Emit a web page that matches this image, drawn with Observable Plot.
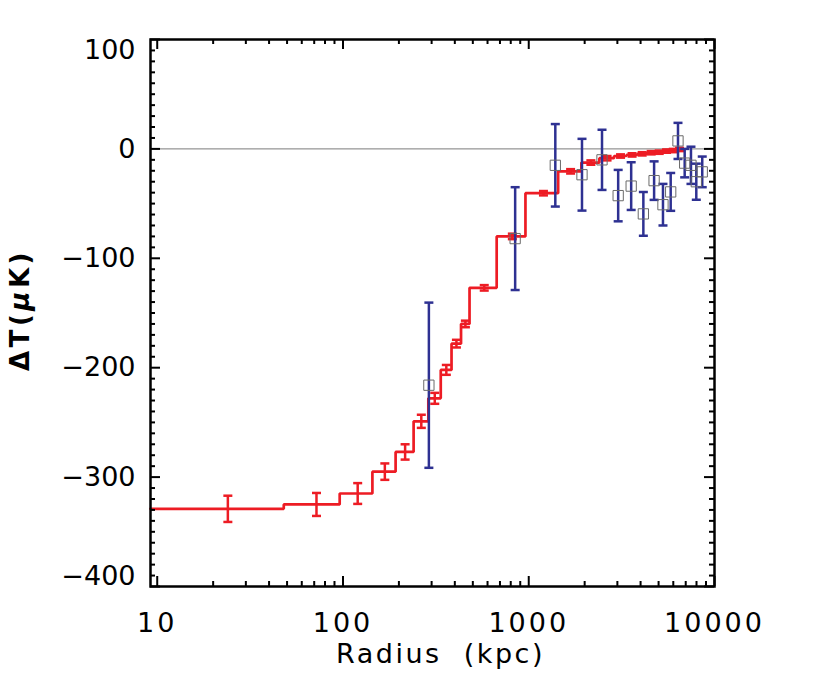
<!DOCTYPE html>
<html>
<head>
<meta charset="utf-8">
<script src="https://cdn.jsdelivr.net/npm/d3@7"></script>
<script src="https://cdn.jsdelivr.net/npm/@observablehq/plot@0.6"></script>
<style>
  body { margin: 0; background: #fff; }
  #chart svg { display: block; }
  g[font-family="DejaVu Sans, sans-serif"] { letter-spacing: 3px; }
  g[font-family="DejaVu Sans, Arial"] { letter-spacing: 2.5px; }
  g[font-family="DejaVu Sans, Helvetica"] { letter-spacing: 3.5px; }
</style>
</head>
<body>
<div id="chart"></div>
<script>
// ---- Data ----
// Red: binned profile (step histogram) with error bars
const redRadius = [24, 72, 120, 168, 216, 264, 312, 360, 408, 456, 576, 816, 1200, 1680, 2160, 2640, 3120, 3600, 4080, 4560, 5040, 5520, 6000, 6480];
const redBinLo  = [0, 48, 96, 144, 192, 240, 288, 336, 384, 432, 480, 672, 960, 1440, 1920, 2400, 2880, 3360, 3840, 4320, 4800, 5280, 5760, 6240];
const redBinHi  = [48, 96, 144, 192, 240, 288, 336, 384, 432, 480, 672, 960, 1440, 1920, 2400, 2880, 3360, 3840, 4320, 4800, 5280, 5760, 6240, 6720];
const redDT     = [-329, -325, -315, -295, -277, -249, -228, -202, -178, -160, -127, -80, -40.5, -20.5, -12.5, -8.5, -6.5, -5.5, -4.5, -3.5, -3, -2, -1.5, -0.5];
const redErr    = [12, 10.5, 9.5, 7.5, 7, 6, 5, 4.5, 3.5, 3, 2.5, 2.5, 2, 2, 2, 2, 1.5, 1.5, 1.5, 1.5, 1.5, 1.5, 1.5, 1.5];

// Blue: individual measurements (squares) with error bars
const blueRadius = [290, 845, 1390, 1935, 2480, 3030, 3560, 4140, 4730, 5280, 5810, 6360, 6910, 7470, 7980, 8590];
const blueDT     = [-216, -82, -15, -23.6, -10, -42.7, -34, -59.4, -29, -51, -39.3, 7.3, -13, -15, -30, -21];
const blueErr    = [75.5, 47, 37.7, 32.8, 27.5, 23.5, 21.8, 20, 17.6, 19, 17.3, 16.5, 13, 17, 16.5, 14];

// Axis ticks and labels
const xMajorTicks = [10, 100, 1000, 10000];
const xMinorTicks = [20, 30, 40, 50, 60, 70, 80, 90, 200, 300, 400, 500, 600, 700, 800, 900, 2000, 3000, 4000, 5000, 6000, 7000, 8000, 9000];
const xTickLabels = ["10", "100", "1000", "10000"];
const yMajorTicks = [-400, -300, -200, -100, 0, 100];
const yMinorTicks = d3.range(-390, 100, 10).filter(v => v % 100 !== 0);
const yTickLabels = ["−400", "−300", "−200", "−100", "0", "100"];
const xTitle = "Radius  (kpc)";
const yTitle = "ΔT(μK)";

// ---- Layout ----
const W = 830, H = 699;
const mL = 150, mR = 116, mT = 39, mB = 113;
const frameW = W - mL - mR;
const frameH = H - mT - mB;
const xDomain = [9.2, 10000];
const yDomain = [-400, 100];

const redColor = "#ed1c24";
const blueColor = "#2e3192";

const red = redRadius.map((r, i) => ({
  r, lo: Math.max(redBinLo[i], xDomain[0]), hi: redBinHi[i], dt: redDT[i], err: redErr[i]
}));
const stepPts = red.flatMap(d => [{x: d.lo, y: d.dt}, {x: d.hi, y: d.dt}]);
const redCaps = red.flatMap(d => [{x: d.r, y: d.dt - d.err}, {x: d.r, y: d.dt + d.err}]);

const blue = blueRadius.map((r, i) => ({r, dt: blueDT[i], err: blueErr[i]}));
const blueCaps = blue.flatMap(d => [{x: d.r, y: d.dt - d.err}, {x: d.r, y: d.dt + d.err}]);

const capSymbol = {
  draw(ctx, size) {
    const r = Math.sqrt(size / Math.PI);
    ctx.moveTo(-r, 0);
    ctx.lineTo(r, 0);
  }
};

const yLab = yMajorTicks.map((v, i) => ({v, t: yTickLabels[i]}));
const xLab = xMajorTicks.map((v, i) => ({v, t: xTickLabels[i]}));

const tickStyle = {stroke: "black", strokeWidth: 2};

const plot = Plot.plot({
  width: W,
  height: H,
  marginLeft: mL, marginRight: mR, marginTop: mT, marginBottom: mB,
  x: {type: "log", domain: xDomain, axis: null},
  y: {domain: yDomain, axis: null},
  style: {fontFamily: "DejaVu Sans", fontSize: "27px", background: "white", color: "black"},
  marks: [
    Plot.ruleY([0], {stroke: "#7a7a7a", strokeWidth: 1}),
    // red step profile
    Plot.line(stepPts, {x: "x", y: "y", stroke: redColor, strokeWidth: 2.7, strokeLinejoin: "miter"}),
    Plot.ruleX(red, {x: "r", y1: d => d.dt - d.err, y2: d => d.dt + d.err, stroke: redColor, strokeWidth: 2.5}),
    Plot.dot(redCaps, {x: "x", y: "y", symbol: capSymbol, r: 4.5, fill: "none", stroke: redColor, strokeWidth: 2.5}),
    // blue measurements
    Plot.ruleX(blue, {x: "r", y1: d => d.dt - d.err, y2: d => d.dt + d.err, stroke: blueColor, strokeWidth: 2.5}),
    Plot.dot(blueCaps, {x: "x", y: "y", symbol: capSymbol, r: 4.5, fill: "none", stroke: blueColor, strokeWidth: 2.5}),
    Plot.dot(blue, {x: "r", y: "dt", symbol: "square", r: 5.8, fill: "none", stroke: "#6a6a6a", strokeWidth: 1}),
    // frame
    Plot.frame({stroke: "black", strokeWidth: 2.5}),
    // inward ticks: bottom & top
    Plot.tickX(xMajorTicks, {x: d => d, insetTop: frameH - 10, ...tickStyle}),
    Plot.tickX(xMajorTicks, {x: d => d, insetBottom: frameH - 10, ...tickStyle}),
    Plot.tickX(xMinorTicks, {x: d => d, insetTop: frameH - 5, ...tickStyle}),
    Plot.tickX(xMinorTicks, {x: d => d, insetBottom: frameH - 5, ...tickStyle}),
    // inward ticks: left & right
    Plot.tickY(yMajorTicks, {y: d => d, insetRight: frameW - 10, ...tickStyle}),
    Plot.tickY(yMajorTicks, {y: d => d, insetLeft: frameW - 10, ...tickStyle}),
    Plot.tickY(yMinorTicks, {y: d => d, insetRight: frameW - 5, ...tickStyle}),
    Plot.tickY(yMinorTicks, {y: d => d, insetLeft: frameW - 5, ...tickStyle}),
    // y tick labels
    Plot.text(yLab.filter(d => d.v > -400 && d.v < 100), {y: "v", text: "t", frameAnchor: "left", textAnchor: "end", dx: -15, lineAnchor: "middle", fontSize: 27, fill: "black"}),
    Plot.text(yLab.filter(d => d.v === 100), {y: "v", text: "t", frameAnchor: "left", textAnchor: "end", dx: -15, dy: 11, lineAnchor: "middle", fontSize: 27, fill: "black"}),
    Plot.text(yLab.filter(d => d.v === -400), {y: "v", text: "t", frameAnchor: "left", textAnchor: "end", dx: -15, dy: -10, lineAnchor: "middle", fontSize: 27, fill: "black"}),
    // x tick labels
    Plot.text(xLab, {x: "v", text: "t", frameAnchor: "bottom", dy: 37, lineAnchor: "middle", fontSize: 27, fontFamily: "DejaVu Sans, sans-serif", fill: "black"}),
    // axis titles
    Plot.text([xTitle], {text: d => d, frameAnchor: "bottom", dx: 8, dy: 68, textAnchor: "middle", lineAnchor: "middle", fontSize: 27, fontFamily: "DejaVu Sans, Arial", fill: "black"}),
    Plot.text([yTitle], {text: d => d, frameAnchor: "left", dx: -130, dy: -3, rotate: -90, textAnchor: "middle", lineAnchor: "middle", fontSize: 26, fontWeight: "bold", fontFamily: "DejaVu Sans, Helvetica", fill: "black"})
  ]
});

document.getElementById("chart").appendChild(plot);

// italic mu in the y title
const yt = plot.querySelector('g[font-family="DejaVu Sans, Helvetica"] text');
if (yt) {
  const ns = "http://www.w3.org/2000/svg";
  yt.textContent = "";
  yt.setAttribute("text-anchor", "middle");
  const parts = [["ΔT(", null], ["μ", "italic"], ["K)", null]];
  for (const [s, st] of parts) {
    const ts = document.createElementNS(ns, "tspan");
    ts.textContent = s;
    if (st) ts.setAttribute("font-style", st);
    yt.appendChild(ts);
  }
}
</script>
</body>
</html>
